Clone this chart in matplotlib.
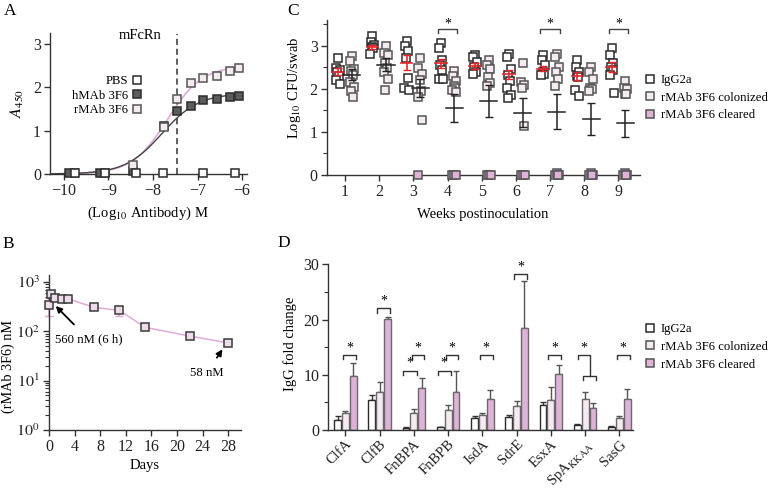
import numpy as np
import matplotlib
matplotlib.use('Agg')
from matplotlib import pyplot as plt
from matplotlib.lines import Line2D

plt.rcParams['font.family'] = ['Liberation Serif', 'DejaVu Serif']
plt.rcParams['mathtext.fontset'] = 'stix'
plt.rcParams['font.size'] = 10.5
plt.rcParams['axes.linewidth'] = 1.0
plt.rcParams['axes.edgecolor'] = '#333333'
for a in ('xtick', 'ytick'):
    plt.rcParams[a + '.major.size'] = 4
    plt.rcParams[a + '.minor.size'] = 3
    plt.rcParams[a + '.major.width'] = 1.0
    plt.rcParams[a + '.minor.width'] = 0.8
    plt.rcParams[a + '.major.pad'] = 2.5
    plt.rcParams[a + '.labelsize'] = 11.5
    plt.rcParams[a + '.color'] = '#333333'
    plt.rcParams[a + '.labelcolor'] = '#222222'

# ---------------- data ----------------
# A: binding to mFcRn (log10 M vs A450)
pbs_x = [-9.75, -9.08, -8.38, -7.77, -6.88, -6.17]
pbs_y = [0.03, 0.03, 0.03, 0.03, 0.03, 0.03]
hmab_x = [-9.88, -9.18, -8.45, -7.75, -7.45, -7.15, -6.87, -6.57, -6.27, -6.07]
hmab_y = [0.03, 0.03, 0.06, 1.10, 1.45, 1.57, 1.70, 1.73, 1.78, 1.80]
rmab_x = [-9.78, -9.08, -8.45, -7.75, -7.45, -7.15, -6.87, -6.57, -6.27, -6.07]
rmab_y = [0.03, 0.03, 0.20, 1.08, 1.72, 2.10, 2.22, 2.26, 2.37, 2.44]
# fitted 4PL parameters (top, logEC50, hill)
hmab_fit = (1.86, -7.80, 1.05)
rmab_fit = (2.50, -7.68, 1.10)
kd_line = -7.45

# B: serum rMAb 3F6 over time
days = [0, 0.25, 1, 2, 3, 7, 11, 15, 22, 28]
conc_nm = [335, 560, 480, 455, 455, 305, 265, 120, 80, 58]
conc_err = [130, 0, 0, 0, 0, 0, 58, 0, 0, 0]

# C: nasal colonization, log10 CFU/swab
weeks = [1, 2, 3, 4, 5, 6, 7, 8, 9]
igg_pts = [
    [2.72, 2.48, 2.45, 2.40, 2.30, 2.20, 2.12],
    [3.22, 3.10, 3.02, 2.97, 2.95, 2.82],
    [3.12, 3.00, 2.88, 2.71, 2.26, 2.03, 1.98],
    [3.07, 2.94, 2.67, 2.55, 2.44, 2.24, 2.22],
    [2.78, 2.74, 2.63, 2.51, 2.40, 2.34],
    [2.82, 2.74, 2.47, 2.32, 2.19, 2.01, 1.86, 1.78],
    [2.78, 2.67, 2.55, 2.40, 2.35, 2.32],
    [2.67, 2.51, 2.40, 2.30, 2.27, 1.97, 1.83],
    [2.94, 2.78, 2.59, 2.50, 2.44, 2.32, 1.91],
]
col_pts = [
    [2.77, 2.65, 2.46, 2.42, 2.33, 2.17, 2.05, 1.95, 1.82],
    [3.00, 2.83, 2.79, 2.60, 2.48, 2.39, 2.23, 1.97],
    [2.71, 2.48, 2.34, 2.21, 1.94, 1.82, 1.28],
    [2.41, 2.30, 2.18, 2.06, 2.03, 1.97, 1.93],
    [2.68, 2.55, 2.47, 2.28, 2.13, 2.06],
    [2.59, 2.17, 2.09, 2.01, 1.14],
    [2.81, 2.73, 2.51, 2.40, 2.24, 2.06],
    [2.51, 2.40, 2.22, 2.03, 2.00, 1.96],
    [2.18, 2.03, 2.00, 1.89, 1.87],
]
clr_pts = [
    [], [], [0.0], [0.0, 0.0, 0.0], [0.0, 0.0, 0.0], [0.0, 0.0, 0.0],
    [0.0, 0.05, 0.0, 0.0], [0.0, 0.05, 0.0, 0.0], [0.0, 0.05, 0.0, 0.0],
]
igg_mean = [2.40, 2.98, 2.61, 2.59, 2.54, 2.34, 2.47, 2.30, 2.51]
igg_sem = [0.08, 0.05, 0.17, 0.10, 0.07, 0.11, 0.06, 0.09, 0.12]
rmab_mean = [2.33, 2.56, 2.03, 1.55, 1.72, 1.45, 1.47, 1.31, 1.20]
rmab_sem = [0.13, 0.15, 0.21, 0.33, 0.37, 0.34, 0.40, 0.37, 0.32]
c_sig_weeks = [4, 7, 9]

# D: IgG fold change per antigen
antigens = ['ClfA', 'ClfB', 'FnBPA', 'FnBPB', 'IsdA', 'SdrE', 'EsxA',
            r'SpA$_{\mathrm{KKAA}}$', 'SasG']
igg_fc = [1.8, 5.4, 0.4, 0.5, 2.1, 2.3, 4.5, 0.9, 0.6]
igg_fc_err = [0.8, 1.0, 0.1, 0.1, 0.5, 0.4, 0.5, 0.15, 0.1]
col_fc = [3.0, 6.9, 3.1, 3.6, 2.7, 4.4, 5.5, 5.6, 2.1]
col_fc_err = [0.4, 1.7, 0.7, 0.9, 0.3, 0.9, 2.2, 1.3, 0.5]
clr_fc = [9.7, 20.1, 7.6, 6.8, 5.7, 18.4, 10.1, 4.05, 5.7]
clr_fc_err = [2.5, 0.4, 1.8, 3.8, 1.5, 8.5, 1.6, 0.8, 1.7]

# colours
white = '#ffffff'
light = '#f5e9f2'
pink = '#dfb3d8'
dark = '#5c5c5c'
edge = '#2b2b2b'
gedge = '#555555'
curve_pink = '#e2a9dc'

W, H = 769, 491
fig = plt.figure(figsize=(W / 100, H / 100), dpi=100)


def px_axes(l, t, r, b):
    return fig.add_axes([l / W, 1 - b / H, (r - l) / W, (b - t) / H])


def clean(ax):
    ax.spines['top'].set_visible(False)
    ax.spines['right'].set_visible(False)


def logistic(x, p):
    top, ec50, hill = p
    return top / (1 + 10 ** ((ec50 - x) * hill))


ms = 6.3
lfs = 9.2

# ---------------- A ----------------
axA = px_axes(50, 33, 247, 174)
clean(axA)
xx = np.linspace(-10.3, -6.0, 200)
axA.plot(xx, logistic(xx, rmab_fit), color=curve_pink, lw=1.2, zorder=2)
axA.plot(xx, logistic(xx, hmab_fit), color='#444444', lw=1.0, zorder=2)
axA.axvline(kd_line, ymin=0, ymax=0.99, color='#333333', lw=1.1, ls=(0, (4, 2.5)))
axA.plot(hmab_x, hmab_y, 's', ms=ms, mfc=dark, mec=edge, mew=1.1, zorder=3, clip_on=False)
axA.plot(rmab_x, rmab_y, 's', ms=ms, mfc=light, mec=gedge, mew=1.1, zorder=4, clip_on=False)
axA.plot(pbs_x, pbs_y, 's', ms=ms, mfc=white, mec=edge, mew=1.1, zorder=5, clip_on=False)
axA.set_xlim(-10.31, -5.89)
axA.set_ylim(0, 3.25)
axA.set_xticks([-10, -9, -8, -7, -6])
axA.set_yticks([0, 1, 2, 3])
axA.text(-8.29, 3.2, 'mFcRn', ha='center', va='center', fontsize=10.5)
axA.set_ylabel(r'$A_{450}$', fontsize=11.5)
axA.yaxis.set_label_coords(-0.12, 0.5)
axA.set_xlabel(r'(Log$_{10}$ Antibody) M')
axA.xaxis.set_label_coords(0.497, -0.22)
hA = [Line2D([], [], marker='s', ls='', ms=ms, mfc=white, mec=edge, mew=1.1),
      Line2D([], [], marker='s', ls='', ms=ms, mfc=dark, mec=edge, mew=1.1),
      Line2D([], [], marker='s', ls='', ms=ms, mfc=light, mec=gedge, mew=1.1)]
axA.legend(hA, ['PBS', 'hMAb 3F6', 'rMAb 3F6'], loc='upper right',
           bbox_to_anchor=(0.47, 0.70), frameon=False, markerfirst=False,
           handlelength=0.8, handletextpad=0.35, borderpad=0, borderaxespad=0,
           labelspacing=0.2, fontsize=lfs)

# ---------------- B ----------------
axB = px_axes(49, 275, 241, 430)
clean(axB)
axB.set_yscale('log')
axB.errorbar(days, conc_nm, yerr=conc_err, fmt='none', ecolor=curve_pink,
             elinewidth=1.2, capsize=3, zorder=2, clip_on=False)
axB.plot(days, conc_nm, '-', color=curve_pink, lw=1.1, zorder=2, clip_on=False)
axB.plot(days, conc_nm, 's', ms=ms, mfc='#eedceb', mec='#3a3a3a', mew=1.1,
         zorder=3, clip_on=False)
axB.set_xlim(0, 30)
axB.set_ylim(1, 1380)
axB.set_xticks([0, 4, 8, 12, 16, 20, 24, 28])
axB.set_yticks([1, 10, 100, 1000])
axB.set_yticklabels([r'$10^0$', r'$10^1$', r'$10^2$', r'$10^3$'])
axB.annotate('560 nM (6 h)', xy=(1.05, 325), xytext=(0.9, 69), ha='left', va='center',
             fontsize=lfs, arrowprops=dict(arrowstyle='-|>', color='black', lw=1.3,
                                           mutation_scale=9, shrinkA=6, shrinkB=0))
axB.annotate('58 nM', xy=(27.1, 43), xytext=(24.6, 14), ha='center', va='center',
             fontsize=lfs, arrowprops=dict(arrowstyle='-|>', color='black', lw=1.3,
                                           mutation_scale=9, shrinkA=6, shrinkB=0))
axB.set_ylabel('(rMAb 3F6) nM', fontsize=10.2)
axB.yaxis.set_label_coords(-0.175, 0.41)
axB.set_xlabel('Days')
axB.xaxis.set_label_coords(0.5, -0.19)

# ---------------- C ----------------
axC = px_axes(326.7, 20, 640, 175)
clean(axC)
jit = [0.0, -0.05, 0.05, -0.02, 0.03, -0.06, 0.06, -0.03, 0.02]
cjit = [-0.06, 0.0, 0.06, 0.03]
for i, w in enumerate(weeks):
    xs = [w - 0.2 + jit[k % len(jit)] for k in range(len(igg_pts[i]))]
    axC.plot(xs, igg_pts[i], 's', ms=ms, mfc=white, mec=edge, mew=1.1, zorder=3)
    xs = [w + 0.2 + jit[k % len(jit)] for k in range(len(col_pts[i]))]
    axC.plot(xs, col_pts[i], 's', ms=ms, mfc=light, mec=gedge, mew=1.1, zorder=3)
    if clr_pts[i]:
        xs = [w + 0.2 + cjit[k % len(cjit)] for k in range(len(clr_pts[i]))]
        axC.plot(xs, clr_pts[i], 's', ms=ms, mfc=pink, mec=gedge, mew=1.1,
                 zorder=4, clip_on=False)
    # means
    axC.plot([w - 0.37, w - 0.03], [igg_mean[i]] * 2, color='#e8262a', lw=1.2, zorder=5)
    axC.errorbar(w - 0.2, igg_mean[i], yerr=igg_sem[i], fmt='none', ecolor='#e8262a',
                 elinewidth=1.2, capsize=3, zorder=5)
    axC.plot([w - 0.05, w + 0.45], [rmab_mean[i]] * 2, color='#222222', lw=1.1, zorder=5)
    axC.errorbar(w + 0.2, rmab_mean[i], yerr=rmab_sem[i], fmt='none', ecolor='#222222',
                 elinewidth=1.1, capsize=3, zorder=5)
for w in c_sig_weeks:
    axC.plot([w - 0.29, w - 0.29, w + 0.29, w + 0.29], [3.3, 3.4, 3.4, 3.3],
             color='#444444', lw=1.0)
    axC.text(w, 3.36, '*', ha='center', va='bottom', fontsize=10)
axC.set_xlim(0.465, 9.63)
axC.set_ylim(0, 3.6)
axC.set_xticks(weeks)
axC.set_yticks([0, 1, 2, 3])
axC.set_yticks([0.5, 1.5, 2.5, 3.5], minor=True)
axC.set_ylabel(r'Log$_{10}$ CFU/swab')
axC.yaxis.set_label_coords(-0.076, 0.56)
axC.set_xlabel('Weeks postinoculation')
axC.xaxis.set_label_coords(0.498, -0.21)
hC = [Line2D([], [], marker='s', ls='', ms=ms, mfc=white, mec=edge, mew=1.1),
      Line2D([], [], marker='s', ls='', ms=ms, mfc=light, mec=gedge, mew=1.1),
      Line2D([], [], marker='s', ls='', ms=ms, mfc=pink, mec=gedge, mew=1.1)]
labels = ['IgG2a', 'rMAb 3F6 colonized', 'rMAb 3F6 cleared']
axC.legend(hC, labels, loc='upper left', bbox_to_anchor=(645 / W, 1 - 74 / H),
           bbox_transform=fig.transFigure, frameon=False, handlelength=0.8,
           handletextpad=0.45, borderpad=0, borderaxespad=0, labelspacing=0.45,
           fontsize=lfs)

# ---------------- D ----------------
axD = px_axes(328.3, 264.3, 632.7, 430)
clean(axD)
gx = np.arange(len(antigens))
bw = 0.2
off = 0.23
axD.bar(gx - off, igg_fc, bw, color=white, edgecolor=edge, lw=1.0, zorder=2)
axD.bar(gx, col_fc, bw, color=light, edgecolor='#6a6a6a', lw=1.0, zorder=2)
axD.bar(gx + off, clr_fc, bw, color=pink, edgecolor='#6a6a6a', lw=1.0, zorder=2)
zeros = [0] * len(antigens)
axD.errorbar(gx - off, igg_fc, yerr=[zeros, igg_fc_err], fmt='none', ecolor='#333333',
             elinewidth=1.0, capsize=2.5, zorder=1)
axD.errorbar(gx, col_fc, yerr=[zeros, col_fc_err], fmt='none', ecolor='#555555',
             elinewidth=1.0, capsize=2.5, zorder=1)
axD.errorbar(gx + off, clr_fc, yerr=[zeros, clr_fc_err], fmt='none', ecolor='#555555',
             elinewidth=1.0, capsize=2.5, zorder=1)


def bracket(ax, x1, x2, y, drop, star_dy, star=True):
    ax.plot([x1, x1, x2, x2], [y - drop, y, y, y - drop], color='#333333', lw=1.0,
            clip_on=False)
    if star:
        ax.text((x1 + x2) / 2, y + star_dy, '*', ha='center', va='bottom', fontsize=10)


dd = 0.8
sd = 0.15
# light vs pink brackets
for g, yb in [(0, 13.6), (1, 22.0), (2, 13.6), (3, 13.6), (4, 13.6), (5, 28.2),
              (6, 13.6), (8, 13.6)]:
    bracket(axD, g - 0.07, g + off + 0.07, yb, dd, sd)
# white vs light brackets
for g in [2, 3]:
    bracket(axD, g - off - 0.08, g + 0.08, 10.75, dd, sd)
# SpA: white vs (light + pink)
g = 7
bracket(axD, g - 0.05, g + off + 0.1, 9.8, dd, sd, star=False)
axD.plot([g - 0.21, g - 0.21, g + 0.15, g + 0.15], [13.6 - dd, 13.6, 13.6, 9.8],
         color='#333333', lw=1.0)
axD.text(g - 0.03, 13.6 + sd, '*', ha='center', va='bottom', fontsize=10)

axD.set_xlim(-0.5, 8.39)
axD.set_ylim(0, 30)
axD.set_xticks(gx)
axD.set_xticklabels(antigens, rotation=45, ha='right', rotation_mode='anchor',
                    fontsize=10.5)
axD.tick_params(axis='x', pad=1.5)
axD.set_yticks([0, 10, 20, 30])
axD.set_yticks([5, 15, 25], minor=True)
axD.set_ylabel('IgG fold change')
axD.yaxis.set_label_coords(-0.103, 0.523)
axD.legend(hC, labels, loc='upper left', bbox_to_anchor=(645 / W, 1 - 323 / H),
           bbox_transform=fig.transFigure, frameon=False, handlelength=0.8,
           handletextpad=0.45, borderpad=0, borderaxespad=0, labelspacing=0.45,
           fontsize=lfs)

# panel letters
for lab, x, y in [('A', 4, 3), ('B', 2, 236), ('C', 287, 3), ('D', 277, 235)]:
    fig.text(x / W, 1 - y / H, lab, ha='left', va='top', fontsize=12.5)

fig.savefig('out.png', dpi=100)
